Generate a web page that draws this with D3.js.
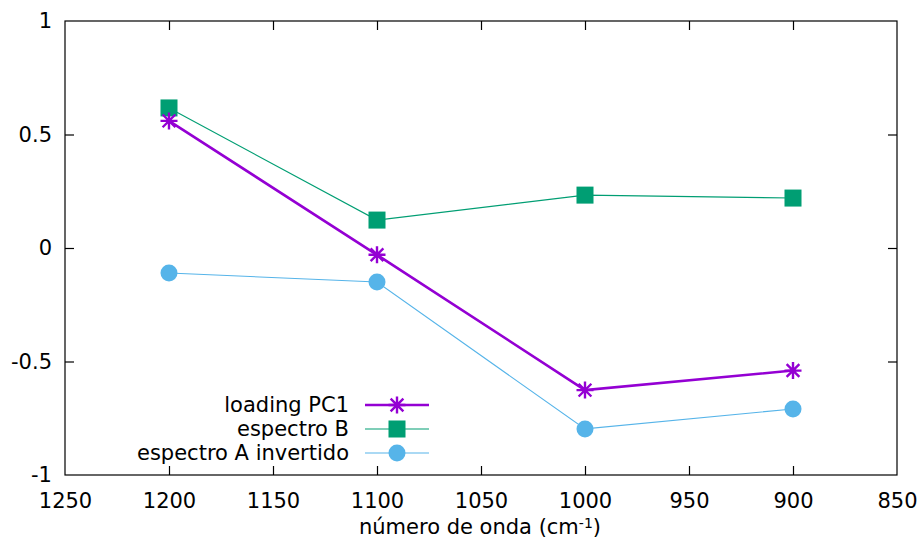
<!DOCTYPE html>
<html>
<head>
<meta charset="utf-8">
<script src="https://cdn.jsdelivr.net/npm/d3@7"></script>
<style>
  html, body { margin: 0; padding: 0; background: #fff; }
  svg text { font-family: "DejaVu Sans", sans-serif; font-size: 21px; fill: #000; }
</style>
</head>
<body>
<svg id="chart" width="921" height="538"></svg>
<script>
// Wavenumbers (cm^-1) sampled
const wavenumbers = [1200, 1100, 1000, 900];

// Series values
const loadingPC1 = [0.56, -0.03, -0.626, -0.54];
const espectroB = [0.617, 0.123, 0.233, 0.22];
const espectroAInvertido = [-0.11, -0.15, -0.797, -0.709];

// Tick labels
const xTicks = [1250, 1200, 1150, 1100, 1050, 1000, 950, 900, 850];
const yTicks = [-1, -0.5, 0, 0.5, 1];

const series = [
  { name: "loading PC1", values: loadingPC1, color: "#9400d3", width: 2.6, marker: "star" },
  { name: "espectro B", values: espectroB, color: "#009e73", width: 1.1, marker: "square" },
  { name: "espectro A invertido", values: espectroAInvertido, color: "#56b4e9", width: 1.1, marker: "circle" }
];

const svg = d3.select("#chart");
const plotLeft = 65, plotRight = 897, plotTop = 21, plotBottom = 475;

const x = d3.scaleLinear().domain([1250, 850]).range([plotLeft, plotRight]);
const y = d3.scaleLinear().domain([-1, 1]).range([plotBottom, plotTop]);

const tickLen = 9;

// Frame
svg.append("rect")
  .attr("x", plotLeft).attr("y", plotTop)
  .attr("width", plotRight - plotLeft).attr("height", plotBottom - plotTop)
  .attr("fill", "none").attr("stroke", "#000").attr("stroke-width", 1.2);

// Axes (ticks drawn inward, mirrored on opposite sides)
const fmt = d => String(d);
svg.append("g").attr("transform", `translate(0,${plotBottom})`)
  .call(d3.axisBottom(x).tickValues(xTicks).tickFormat(fmt).tickSizeInner(-tickLen).tickSizeOuter(0).tickPadding(18))
  .call(g => g.select(".domain").remove())
  .call(g => g.selectAll("text").attr("font-size", null).attr("font-family", null))
  .call(g => g.selectAll("line").attr("stroke-width", 1.2));
svg.append("g").attr("transform", `translate(0,${plotTop})`)
  .call(d3.axisTop(x).tickValues(xTicks).tickFormat("").tickSizeInner(-tickLen).tickSizeOuter(0))
  .call(g => g.select(".domain").remove())
  .call(g => g.selectAll("line").attr("stroke-width", 1.2));
svg.append("g").attr("transform", `translate(${plotLeft},0)`)
  .call(d3.axisLeft(y).tickValues(yTicks).tickFormat(fmt).tickSizeInner(-tickLen).tickSizeOuter(0).tickPadding(13))
  .call(g => g.select(".domain").remove())
  .call(g => g.selectAll("text").attr("font-size", null).attr("font-family", null))
  .call(g => g.selectAll("line").attr("stroke-width", 1.2));
svg.append("g").attr("transform", `translate(${plotRight},0)`)
  .call(d3.axisRight(y).tickValues(yTicks).tickFormat("").tickSizeInner(-tickLen).tickSizeOuter(0))
  .call(g => g.select(".domain").remove())
  .call(g => g.selectAll("line").attr("stroke-width", 1.2));
// End ticks coincide with the frame edges
svg.selectAll(".tick line").filter(function(d) { return d === 1250 || d === 850 || d === 1 || d === -1; }).remove();

// X axis title
const title = svg.append("text")
  .attr("x", (plotLeft + plotRight) / 2 - 1).attr("y", 534)
  .attr("text-anchor", "middle");
title.append("tspan").text("número de onda (cm");
title.append("tspan").attr("dy", -6).attr("font-size", "14px").text("-1");
title.append("tspan").attr("dy", 6).text(")");

// Marker drawing
function drawMarker(g, type, cx, cy, color) {
  if (type === "square") {
    const s = 17;
    g.append("rect").attr("x", cx - s / 2).attr("y", cy - s / 2)
      .attr("width", s).attr("height", s).attr("fill", color);
  } else if (type === "circle") {
    g.append("circle").attr("cx", cx).attr("cy", cy).attr("r", 8.5).attr("fill", color);
  } else {
    const r = 8.5;
    const p = d3.path();
    p.moveTo(cx - r, cy); p.lineTo(cx + r, cy);
    p.moveTo(cx, cy - r); p.lineTo(cx, cy + r);
    const d = r * 0.75;
    p.moveTo(cx - d, cy - d); p.lineTo(cx + d, cy + d);
    p.moveTo(cx - d, cy + d); p.lineTo(cx + d, cy - d);
    g.append("path").attr("d", p.toString()).attr("stroke", color)
      .attr("stroke-width", 2.4).attr("fill", "none");
  }
}

const line = d3.line().x(d => x(d[0])).y(d => y(d[1]));

// Draw series in reverse order so the first one sits on top
series.slice().reverse().forEach(s => {
  const pts = wavenumbers.map((w, i) => [w, s.values[i]]);
  const g = svg.append("g");
  g.append("path").attr("d", line(pts)).attr("fill", "none")
    .attr("stroke", s.color).attr("stroke-width", s.width);
  pts.forEach(p => drawMarker(g, s.marker, x(p[0]), y(p[1]), s.color));
});

// Legend
const legRows = [405, 429, 453];
series.forEach((s, i) => {
  const yy = legRows[i];
  svg.append("text").attr("x", 349).attr("y", yy).attr("dy", "0.35em")
    .attr("text-anchor", "end").text(s.name);
  const g = svg.append("g");
  g.append("line").attr("x1", 365).attr("x2", 429).attr("y1", yy).attr("y2", yy)
    .attr("stroke", s.color).attr("stroke-width", s.width);
  drawMarker(g, s.marker, 397, yy, s.color);
});
</script>
</body>
</html>
